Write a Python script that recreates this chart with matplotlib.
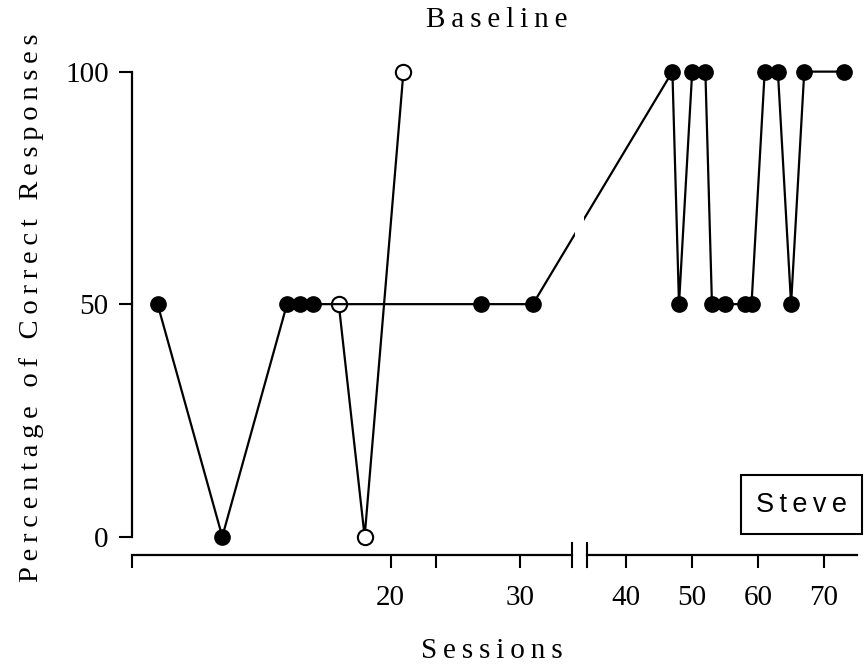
import matplotlib
matplotlib.use("Agg")
import matplotlib.pyplot as plt
from matplotlib.patches import ConnectionPatch, Rectangle
from matplotlib.transforms import blended_transform_factory

# baseline sessions, left part of the broken axis
left_sessions = [2, 7, 12, 13, 14, 27, 31]
left_pct = [50, 0, 50, 50, 50, 50, 50]
# open-circle sessions
probe_sessions = [16, 18, 21]
probe_pct = [50, 0, 100]
# right part of the broken axis
right_sessions = [47, 48, 50, 52, 53, 55, 58, 59, 61, 63, 65, 67, 73]
right_pct = [100, 50, 100, 100, 50, 50, 50, 50, 100, 100, 50, 100, 100]

left_ticks = [0, 20, 23.5, 30]
left_ticklabels = ["", "20", "", "30"]
right_ticks = [40, 50, 60, 70]
y_ticks = [0, 50, 100]

THIN = "\u2009"


def spaced(s):
    # letter-spaced text like the original figure
    return (THIN + " " + THIN).join(THIN.join(w) for w in s.split())


serif = "Liberation Serif"
fs = 21
W, H = 868, 664

fig = plt.figure(figsize=(W / 100, H / 100), dpi=100)
bottom = 1 - 555 / H
height = (555 - 60) / H
ax1 = fig.add_axes([131.7 / W, bottom, 440 / W, height])
ax2 = fig.add_axes([586.7 / W, bottom, 270.3 / W, height])

ylim = (-3.94, 102.5)
ax1.set_xlim(0, 34)
ax2.set_xlim(34, 75)
for ax in (ax1, ax2):
    ax.set_ylim(*ylim)
    ax.spines["top"].set_visible(False)
    ax.spines["right"].set_visible(False)
    ax.spines["bottom"].set_linewidth(1.6)
    ax.tick_params(axis="x", length=9.5, width=1.5, pad=12)

ax1.spines["left"].set_linewidth(1.6)
ax1.spines["left"].set_bounds(0, 100)
ax1.set_yticks(y_ticks)
ax1.set_yticklabels([str(v) for v in y_ticks], family=serif, fontsize=fs)
ax1.tick_params(axis="y", length=9.5, width=1.5, pad=7)
ax1.set_xticks(left_ticks)
ax1.set_xticklabels(left_ticklabels, family=serif, fontsize=fs)

ax2.spines["left"].set_visible(False)
ax2.set_yticks([])
ax2.set_xticks(right_ticks)
ax2.set_xticklabels([str(v) for v in right_ticks], family=serif, fontsize=fs)

# break marks
ax1.axvline(34, ymin=-0.024, ymax=0.024, color="black", lw=1.5, clip_on=False)
ax2.axvline(34, ymin=-0.024, ymax=0.024, color="black", lw=1.5, clip_on=False)

ax1.plot(probe_sessions, probe_pct, color="black", lw=1.6, marker="o",
         ms=11, mfc="white", mec="black", mew=1.5, zorder=2, clip_on=False)
ax1.plot(left_sessions, left_pct, color="black", lw=1.6, marker="o",
         ms=11, mfc="black", mec="black", zorder=3, clip_on=False)
ax2.plot(right_sessions, right_pct, color="black", lw=1.6, marker="o",
         ms=11, mfc="black", mec="black", zorder=3, clip_on=False)

# line across the axis break, with a small gap in it
con = ConnectionPatch(xyA=(left_sessions[-1], left_pct[-1]), coordsA=ax1.transData,
                      xyB=(right_sessions[0], right_pct[0]), coordsB=ax2.transData,
                      color="black", lw=1.6, shrinkA=0, shrinkB=0, zorder=3)
fig.add_artist(con)
gap_tr = blended_transform_factory(fig.transFigure, ax1.transData)
fig.add_artist(Rectangle((575 / W, 55), 9 / W, 40, transform=gap_tr,
                         fc="white", ec="none", zorder=4))

# Steve label box
ax2.add_patch(Rectangle((0.571, 0.0424), 0.4475, 0.119, transform=ax2.transAxes,
                        fill=False, ec="black", lw=1.5, clip_on=False))
ax2.text(0.795, 0.102, THIN.join("Steve"), transform=ax2.transAxes, ha="center",
         va="center", fontsize=19.5, family="Liberation Sans")

fig.text(497 / W, 1 - 20 / H, spaced("Baseline"), ha="center", va="center",
         fontsize=fs, family=serif)
fig.text(492 / W, 1 - 651 / H, spaced("Sessions"), ha="center", va="center",
         fontsize=fs, family=serif)
fig.text(32 / W, 1 - 307.5 / H, spaced("Percentage of Correct Responses"),
         ha="center", va="center", rotation=90, fontsize=20.5, family=serif)

fig.savefig("out.png", dpi=100)
